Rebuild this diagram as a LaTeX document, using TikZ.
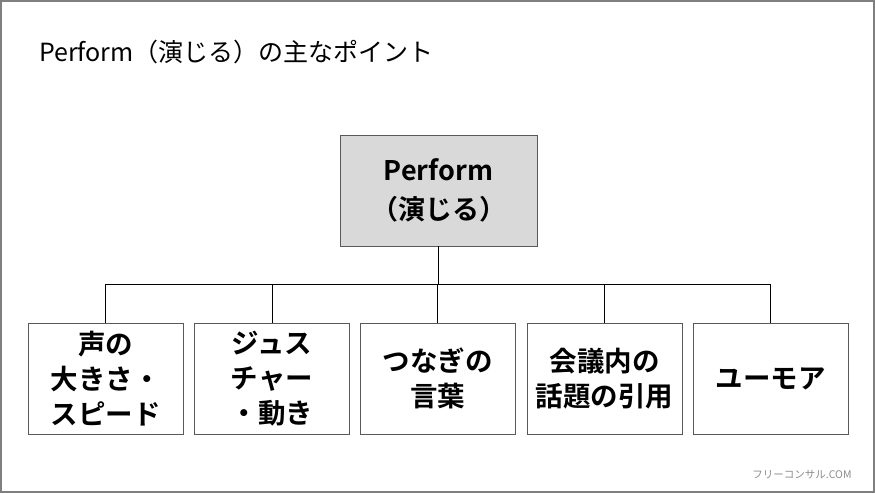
\documentclass[tikz,border=0pt]{standalone}
\usepackage{fontspec}
\setmainfont{Noto Sans CJK JP}
\newfontfamily\jpbold{Noto Sans CJK JP Bold}
\definecolor{framegray}{HTML}{7F7F7F}
\definecolor{boxgray}{HTML}{D9D9D9}
\definecolor{edgegray}{HTML}{595959}
\definecolor{wmgray}{HTML}{8C8C8C}
\definecolor{wmblue}{HTML}{4FA3D9}
\begin{document}
\begin{tikzpicture}[x=1pt,y=-1pt,
  itembox/.style={draw=edgegray,line width=0.9pt,minimum width=155pt,minimum height=111pt,
    align=center,inner sep=0pt,font=\jpbold\fontsize{27.5}{35}\selectfont},
  topbox/.style={itembox,fill=boxgray,minimum width=197pt,minimum height=111pt,
    font=\jpbold\fontsize{27}{39}\selectfont},
  link/.style={draw=black,line width=1pt}]
\useasboundingbox (0,0) rectangle (875,493);
\draw[framegray,line width=2pt] (1,1) rectangle (874,492);
\node[anchor=west,inner sep=0pt,font=\fontsize{25}{30}\selectfont] (title) at (39,52) {Perform（演じる）の主なポイント};
\node[topbox] (top) at (438.5,190.5) {Perform\\（演じる）};
\node[itembox] (b1) at (105.5,378.5) {声の\\大きさ・\\スピード};
\node[itembox] (b2) at (272,378.5) {ジュス\\チャー\\・動き};
\node[itembox] (b3) at (437.5,378.5) {つなぎの\\言葉};
\node[itembox] (b4) at (604.5,378.5) {会議内の\\話題の引用};
\node[itembox] (b5) at (770.5,378.5) {ユーモア};
\coordinate (bus) at (438,284);
\draw[link] (top.south) -- (top.south |- bus);
\draw[link] (b1.north |- bus) -- (b5.north |- bus);
\foreach \b in {b1,b2,b3,b4,b5} {\draw[link] (\b.north) -- (\b.north |- bus);}
\node[inner sep=0pt,font=\fontsize{10.5}{12}\selectfont,text=wmgray] (wm) at (802,475) {フリーコンサル\textcolor{wmblue}{.}COM};
\end{tikzpicture}
\end{document}
